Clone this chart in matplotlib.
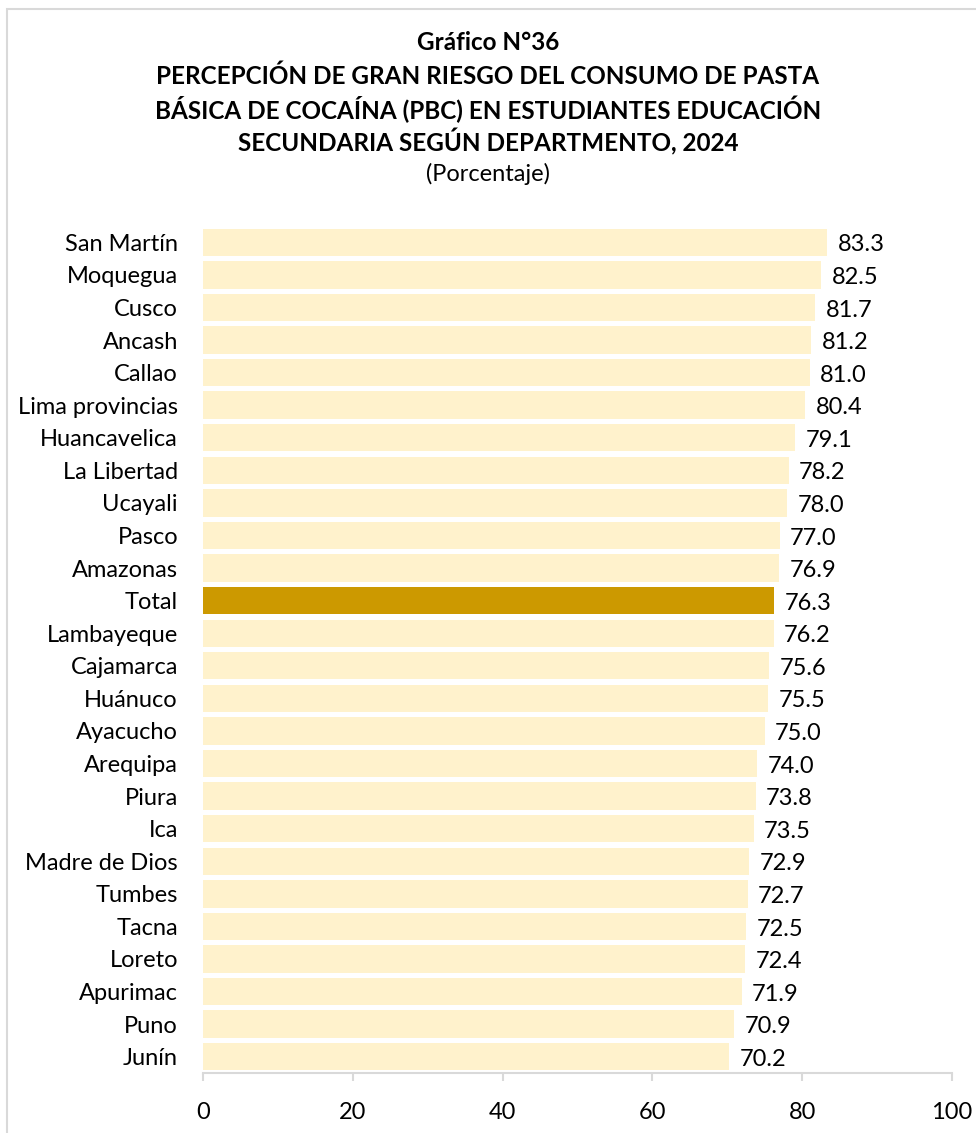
import matplotlib.pyplot as plt
from matplotlib.patches import Rectangle

departamentos = ['San Martín', 'Moquegua', 'Cusco', 'Ancash', 'Callao', 'Lima provincias',
                 'Huancavelica', 'La Libertad', 'Ucayali', 'Pasco', 'Amazonas', 'Total',
                 'Lambayeque', 'Cajamarca', 'Huánuco', 'Ayacucho', 'Arequipa', 'Piura',
                 'Ica', 'Madre de Dios', 'Tumbes', 'Tacna', 'Loreto', 'Apurimac', 'Puno', 'Junín']
porcentajes = [83.3, 82.5, 81.7, 81.2, 81.0, 80.4, 79.1, 78.2, 78.0, 77.0, 76.9, 76.3,
               76.2, 75.6, 75.5, 75.0, 74.0, 73.8, 73.5, 72.9, 72.7, 72.5, 72.4, 71.9, 70.9, 70.2]
xticks = [0, 20, 40, 60, 80, 100]

plt.rcParams['font.family'] = ['Lato', 'DejaVu Sans']

fig = plt.figure(figsize=(9.76, 11.33), dpi=100)
# light frame around the chart
fig.patches.append(Rectangle((7 / 976, -0.05), 1.2, 1 - 9 / 1133 + 0.05, transform=fig.transFigure,
                             fill=False, edgecolor='#D9D9D9', linewidth=1.5))

ax = fig.add_axes([203 / 976, 1 - 1073 / 1133, (952 - 203) / 976, (1073 - 226) / 1133])

colores = ['#CC9900' if d == 'Total' else '#FFF2CC' for d in departamentos]
y = list(range(len(departamentos)))
ax.barh(y, porcentajes, height=0.84, color=colores)
for yi, v in zip(y, porcentajes):
    ax.text(v + 1.4, yi + 0.08, f'{v:.1f}', va='center', ha='left', fontsize=17, color='black')

ax.set_ylim(len(departamentos) - 0.5, -0.5)
ax.set_xlim(0, 100)
ax.set_yticks(y)
ax.set_yticklabels(departamentos, fontsize=17)
ax.set_xticks(xticks)
ax.set_xticklabels([str(t) for t in xticks], fontsize=17)
ax.tick_params(axis='y', length=0, pad=18)
ax.tick_params(axis='x', length=6, color='#D9D9D9', width=1.5, pad=15)
for s in ['top', 'right', 'left']:
    ax.spines[s].set_visible(False)
ax.spines['bottom'].set_color('#D9D9D9')
ax.spines['bottom'].set_linewidth(1.5)

titulo = ['Gráfico N°36',
          'PERCEPCIÓN DE GRAN RIESGO DEL CONSUMO DE PASTA',
          'BÁSICA DE COCAÍNA (PBC) EN ESTUDIANTES EDUCACIÓN',
          'SECUNDARIA SEGÚN DEPARTMENTO, 2024']
for i, linea in enumerate(titulo):
    fig.text(0.5, 1 - (43 + 33 * i) / 1133, linea, ha='center', va='center', fontsize=17.5, fontweight='bold')
fig.text(0.5, 1 - 174 / 1133, '(Porcentaje)', ha='center', va='center', fontsize=17)

fig.savefig('out.png', dpi=100)
plt.close(fig)
